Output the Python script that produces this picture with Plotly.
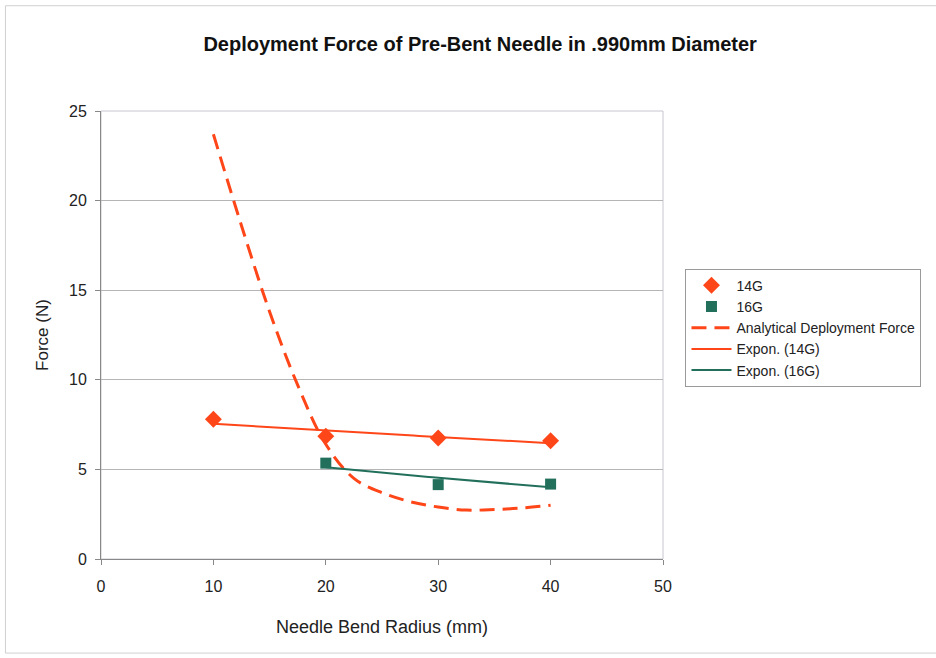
import numpy as np
import plotly.graph_objects as go

# ---- data ----
radius_14g = [10, 20, 30, 40]
force_14g = [7.8, 6.85, 6.75, 6.6]

radius_16g = [20, 30, 40]
force_16g = [5.35, 4.15, 4.18]

radius_analytical = [10, 12.5, 15, 17.5, 20, 22.5, 25, 27.5, 30, 32.5, 35, 37.5, 40]
force_analytical = [23.7, 18.6, 13.8, 9.7, 6.4, 4.5, 3.7, 3.2, 2.9, 2.73, 2.76, 2.85, 3.0]

x_ticks = [0, 10, 20, 30, 40, 50]
y_ticks = [0, 5, 10, 15, 20, 25]

ORANGE = "#FF4619"
GREEN = "#22705C"


def expon_fit(x, y):
    x = np.asarray(x, float)
    y = np.asarray(y, float)
    b, ln_a = np.polyfit(x, np.log(y), 1)
    xs = np.linspace(x.min(), x.max(), 60)
    return xs, np.exp(ln_a) * np.exp(b * xs)


fx14, fy14 = expon_fit(radius_14g, force_14g)
fx16, fy16 = expon_fit(radius_16g, force_16g)

fig = go.Figure()
fig.add_trace(go.Scatter(x=radius_analytical, y=force_analytical, mode="lines",
                         name="Analytical Deployment Force", legendrank=3,
                         line=dict(color=ORANGE, width=3, dash="15px,8px", shape="spline", smoothing=1.0)))
fig.add_trace(go.Scatter(x=fx14, y=fy14, mode="lines", name="Expon. (14G)", legendrank=4,
                         line=dict(color=ORANGE, width=2)))
fig.add_trace(go.Scatter(x=fx16, y=fy16, mode="lines", name="Expon. (16G)", legendrank=5,
                         line=dict(color=GREEN, width=2)))
fig.add_trace(go.Scatter(x=radius_14g, y=force_14g, mode="markers", name="14G", legendrank=1,
                         marker=dict(symbol="diamond", size=13, color=ORANGE)))
fig.add_trace(go.Scatter(x=radius_16g, y=force_16g, mode="markers", name="16G", legendrank=2,
                         marker=dict(symbol="square", size=11, color=GREEN)))

fig.update_layout(
    width=936, height=658,
    margin=dict(l=101, r=273, t=111, b=99),
    paper_bgcolor="white", plot_bgcolor="white",
    font=dict(family="Liberation Sans, Arial, sans-serif", color="#1a1a1a"),
    title=dict(text="<b>Deployment Force of Pre-Bent Needle in .990mm Diameter</b>",
               x=0.513, xanchor="center", y=0.933, yanchor="middle",
               font=dict(size=20, color="#111")),
    showlegend=True,
    legend=dict(x=1.04, xanchor="left", y=0.648, yanchor="top",
                bordercolor="#9a9a9a", borderwidth=1, bgcolor="white",
                font=dict(size=14, color="#222"), tracegroupgap=0,
                itemwidth=40, traceorder="normal"),
)

fig.update_xaxes(range=[0, 50], tickvals=x_ticks, ticktext=[str(v) for v in x_ticks],
                 showgrid=False, zeroline=False, showline=True, linecolor="#888",
                 linewidth=1, ticks="outside", ticklen=5, tickcolor="#888",
                 ticklabelstandoff=8,
                 tickfont=dict(size=16, color="#222"),
                 title=dict(text="Needle Bend Radius (mm)", font=dict(size=18, color="#222"), standoff=26),
                 mirror=False)
fig.update_yaxes(range=[0, 25], tickvals=y_ticks, ticktext=[str(v) for v in y_ticks],
                 showgrid=True, gridcolor="#b5b5b5", gridwidth=1, zeroline=False,
                 showline=True, linecolor="#888", linewidth=1, ticks="outside",
                 ticklen=5, tickcolor="#888", tickfont=dict(size=16, color="#222"),
                 ticklabelstandoff=5,
                 title=dict(text="Force (N)", font=dict(size=17, color="#222"), standoff=16))

# light plot-area border on top/right
fig.add_shape(type="rect", xref="paper", yref="paper", x0=0, y0=0, x1=1, y1=1,
              line=dict(color="#c8c8d0", width=1), layer="below")
# faint chart-area frame
fig.add_shape(type="rect", xref="paper", yref="paper", x0=-0.17, y0=-0.21, x1=1.6, y1=1.235,
              line=dict(color="#d0d0d0", width=1), layer="below")

fig.write_html("out.html")
